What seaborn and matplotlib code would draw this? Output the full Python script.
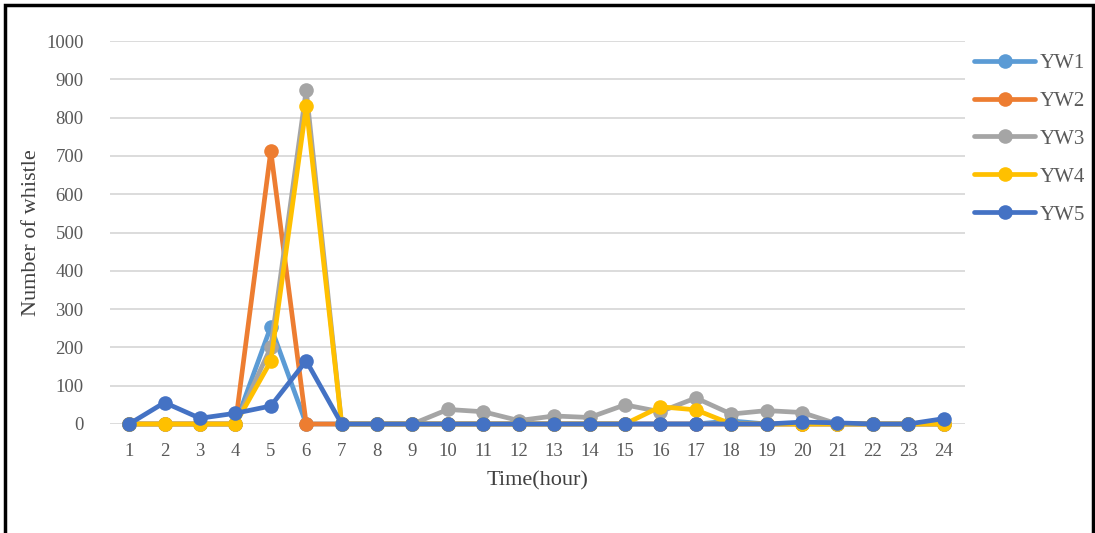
import numpy as np
import pandas as pd
import matplotlib
matplotlib.use("Agg")
import matplotlib.pyplot as plt
import seaborn as sns
from matplotlib.patches import Rectangle

hours = list(range(1, 25))
series_names = ["YW1", "YW2", "YW3", "YW4", "YW5"]
yw1 = [0, 0, 0, 0, 254, 0, 0, 0, 0, 0, 0, 0, 0, 0, 0, 0, 0, 8, 0, 0, 0, 0, 0, 0]
yw2 = [0, 0, 0, 0, 713, 0, 0, 0, 0, 0, 0, 0, 0, 0, 0, 0, 0, 0, 0, 0, 0, 0, 0, 0]
yw3 = [0, 0, 0, 0, 200, 872, 0, 0, 0, 38, 32, 9, 21, 17, 50, 32, 68, 26, 35, 30, 0, 0, 0, 0]
yw4 = [0, 0, 0, 0, 164, 830, 0, 0, 0, 0, 0, 0, 0, 0, 0, 45, 37, 0, 0, 0, 0, 0, 0, 0]
yw5 = [0, 56, 15, 28, 47, 165, 0, 0, 0, 0, 0, 0, 0, 0, 0, 0, 0, 0, 0, 5, 3, 0, 0, 14]
colors = ["#5B9BD5", "#ED7D31", "#A5A5A5", "#FFC000", "#4472C4"]
y_ticks = list(range(0, 1001, 100))

df = pd.DataFrame({
    "hour": hours * 5,
    "count": yw1 + yw2 + yw3 + yw4 + yw5,
    "site": [n for n in series_names for _ in hours],
})

sns.set_theme(style="white")
plt.rcParams["font.family"] = ["Liberation Serif", "DejaVu Serif"]

fig = plt.figure(figsize=(10.95, 5.33), dpi=100)
W, H = 1095, 533
ax = fig.add_axes([110 / W, 1 - 424 / H, (965 - 110) / W, (424 - 41) / H])

for name, col in zip(series_names, colors):
    sub = df[df["site"] == name]
    sns.lineplot(data=sub, x="hour", y="count", ax=ax, color=col, lw=3.4,
                 marker="o", markersize=10.5, markeredgecolor=col,
                 markeredgewidth=0, label=name, clip_on=False, zorder=3)

ax.set_xlim(0.46, 24.6)
ax.set_ylim(0, 1000)
ax.set_xticks(hours)
ax.set_xticklabels([str(h) for h in hours])
ax.set_yticks(y_ticks)
ax.set_yticklabels([str(v) for v in y_ticks])
ax.yaxis.grid(True, color="#D9D9D9", lw=1.3)
ax.set_axisbelow(True)
for s in ax.spines.values():
    s.set_visible(False)
ax.tick_params(axis="both", length=0, labelsize=13.5, colors="#595959")
ax.tick_params(axis="x", pad=14)
ax.tick_params(axis="y", pad=19)
ax.set_xlabel("Time(hour)", fontsize=16, color="#404040", labelpad=8)
ax.set_ylabel("Number of whistle", fontsize=16, color="#404040", labelpad=4)

leg = ax.legend(loc="upper left", bbox_to_anchor=(966 / W, 1 - 45 / H),
                bbox_transform=fig.transFigure, frameon=False, fontsize=15,
                handlelength=2.9, handletextpad=0.25, labelspacing=0.88,
                borderaxespad=0)
for t in leg.get_texts():
    t.set_color("#595959")

fig.patches.append(Rectangle((5 / W, -0.02), (1088 / W), 1 - 5 / H + 0.02,
                             transform=fig.transFigure, fill=False,
                             edgecolor="black", lw=2.5))

fig.savefig("out.png", dpi=100)
